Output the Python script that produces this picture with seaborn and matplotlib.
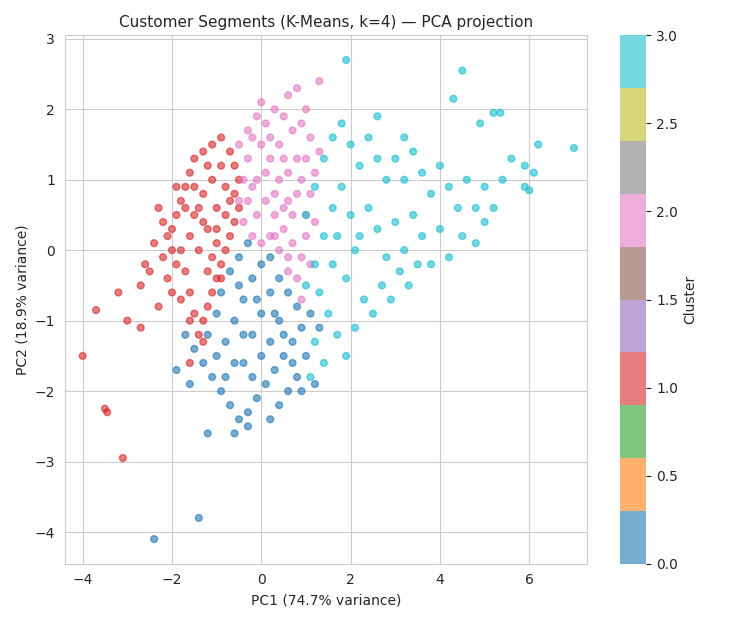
import numpy as np
import matplotlib
matplotlib.use("Agg")
import matplotlib.pyplot as plt
import seaborn as sns

# hand-read representative points per cluster (PC1, PC2)
blue_x = [-1.7,-1.5,-1.3,-1.1,-0.9,-0.7,-0.5,-0.3,-0.1,0.1,0.3,0.5,0.7,0.9,1.1,1.3,1.0,0.8,0.6,0.4,0.2,-0.8,-0.6,-0.4,-0.2,0.0,0.2,0.4,0.6,0.8,-0.9,-0.7,-0.5,-0.3,-1.0,-1.2,-0.4,-0.2,0.0,0.2,0.4,0.2,0.0,-0.2,-0.6,-0.4,-0.1,0.5,0.7,-1.0,-0.8,0.3,-1.2,-0.3,-0.6,-2.4,-1.4,-1.9,-1.6,0.9,1.2,-0.5]
blue_y = [-1.2,-1.4,-1.6,-1.8,-2.0,-2.2,-2.4,-2.3,-2.1,-1.9,-1.7,-1.5,-1.3,-1.1,-0.9,-1.1,-1.5,-1.8,-2.0,-2.2,-2.4,-1.3,-1.0,-0.7,-0.4,-0.2,-0.1,-0.4,-0.6,-0.8,-0.6,-0.3,-0.1,0.1,-0.9,-1.2,-1.6,-1.2,-0.9,-0.6,-1.0,-1.3,-1.5,-1.8,-1.6,-1.2,-0.7,-1.2,-1.6,-1.5,-1.8,-0.9,-2.6,-2.5,-2.6,-4.1,-3.8,-1.7,-1.9,-2.0,-1.9,-0.5]
red_x = [-2.0,-1.9,-1.8,-1.7,-1.6,-1.5,-1.3,-1.1,-0.9,-0.7,-0.6,-0.5,-0.6,-0.5,-0.6,-0.7,-0.8,-0.9,-1.0,-1.1,-1.2,-1.3,-1.4,-1.5,-1.6,-1.7,-1.8,-1.9,-2.0,-2.1,-2.2,-2.1,-1.8,-1.5,-1.3,-1.1,-0.9,-1.2,-1.0,-0.8,-1.4,-1.2,-1.6,-1.4,-1.7,-1.0,-0.8,-1.2,-1.5,-1.9,-2.3,-2.4,-2.6,-2.2,-2.0,-1.0,-0.7,-1.1,-1.3,-0.9,-1.6,-1.3,
         -4.0,-3.5,-3.45,-3.1,-3.7,-3.2,-3.0,-2.7,-1.6,-2.3,-2.5,-2.7]
red_y = [0.3,0.5,0.7,0.9,1.1,1.3,1.4,1.5,1.6,1.4,1.2,1.0,0.8,0.6,0.4,0.2,0.0,-0.2,-0.4,-0.6,-0.8,-1.0,-1.2,-0.9,-0.6,-0.3,0.0,-0.2,0.0,0.2,0.4,-0.4,-0.7,0.5,0.8,1.0,1.2,0.3,0.6,0.9,0.0,-0.3,0.2,0.6,0.6,0.1,0.5,1.2,0.9,0.9,0.6,0.1,-0.2,-0.1,-0.6,0.3,0.7,-0.1,0.4,-0.4,-1.0,-1.3,
         -1.5,-2.25,-2.3,-2.95,-0.85,-0.6,-1.0,-1.1,-1.6,-0.8,-0.3,-0.5]
pink_x = [-0.5,-0.3,-0.1,0.1,0.3,0.5,0.7,0.9,1.1,1.3,1.2,1.1,1.0,1.0,0.9,0.8,0.9,0.6,0.4,0.2,0.0,-0.2,-0.4,-0.5,-0.4,-0.3,-0.1,0.1,0.3,0.5,0.7,0.6,0.4,0.2,0.0,0.4,0.8,0.6,0.9,0.7,0.3,-0.1,-0.3,0.1,0.5,0.8,1.2,1.1,0.0,0.6,0.8,1.3,1.0,-0.2,0.2,0.5,1.0,0.3,0.6,-0.2]
pink_y = [1.5,1.7,1.9,1.8,2.0,1.9,1.7,1.8,1.6,1.4,1.1,0.8,0.5,0.2,-0.1,-0.4,-0.7,-0.3,0.0,0.2,0.1,0.2,0.4,0.7,1.0,1.3,1.0,0.7,0.5,0.3,0.1,0.7,1.0,1.3,1.5,1.5,1.3,1.1,1.0,0.5,0.8,0.5,0.7,1.1,0.6,0.8,0.4,-0.2,2.1,2.2,2.3,2.4,2.0,1.6,1.6,1.3,1.3,0.2,-0.1,0.9]
cyan_x = [1.0,1.2,1.4,1.6,1.8,2.0,2.2,2.4,2.6,2.8,3.0,3.2,3.4,3.6,3.8,4.0,4.2,4.4,4.6,4.8,5.0,5.2,5.4,5.6,5.9,6.1,1.2,1.4,1.6,1.8,2.0,2.2,2.4,2.6,2.8,3.0,3.2,3.4,3.6,3.8,4.0,4.2,4.5,4.8,5.0,1.3,1.5,1.7,1.9,2.1,2.3,2.5,2.7,2.9,3.1,3.3,3.5,1.2,1.4,1.1,1.6,1.9,2.1,1.7,1.0,1.9,4.5,4.3,5.2,5.35,6.2,7.0,5.9,6.0,4.9,3.2,2.6]
cyan_y = [0.5,0.9,1.3,1.6,1.8,1.5,1.2,1.6,1.3,1.0,1.3,1.0,1.4,1.1,0.8,1.2,0.9,0.6,1.0,0.6,0.9,0.6,1.0,1.3,1.2,1.1,-0.2,0.2,0.6,0.9,0.5,0.2,0.6,0.3,-0.1,0.4,0.0,0.5,0.2,-0.2,0.3,-0.1,0.2,0.1,0.4,-0.6,-0.9,-1.2,-1.5,-1.1,-0.7,-0.9,-0.5,-0.7,-0.3,-0.5,-0.2,-1.3,-1.6,-1.8,-0.2,-0.4,0.0,0.2,-0.5,2.7,2.55,2.15,1.95,1.95,1.5,1.45,0.9,0.85,1.8,1.6,1.9]

xs = np.array(blue_x + red_x + pink_x + cyan_x)
ys = np.array(blue_y + red_y + pink_y + cyan_y)
labels = np.array([0]*len(blue_x) + [1]*len(red_x) + [2]*len(pink_x) + [3]*len(cyan_x))

sns.set_style("whitegrid")
fig, ax = plt.subplots(figsize=(7.33, 6.22), dpi=100)
sc = ax.scatter(xs, ys, c=labels, cmap="tab10", s=24, alpha=0.6)
cb = fig.colorbar(sc, ax=ax)
cb.set_label("Cluster")
cb.outline.set_visible(False)
ax.set_xlim(-4.4, 7.3)
ax.set_ylim(-4.45, 3.05)
ax.set_title("Customer Segments (K-Means, k=4) — PCA projection", fontsize=11)
ax.set_xlabel("PC1 (74.7% variance)")
ax.set_ylabel("PC2 (18.9% variance)")
plt.tight_layout()
plt.savefig("out.png", dpi=100)
